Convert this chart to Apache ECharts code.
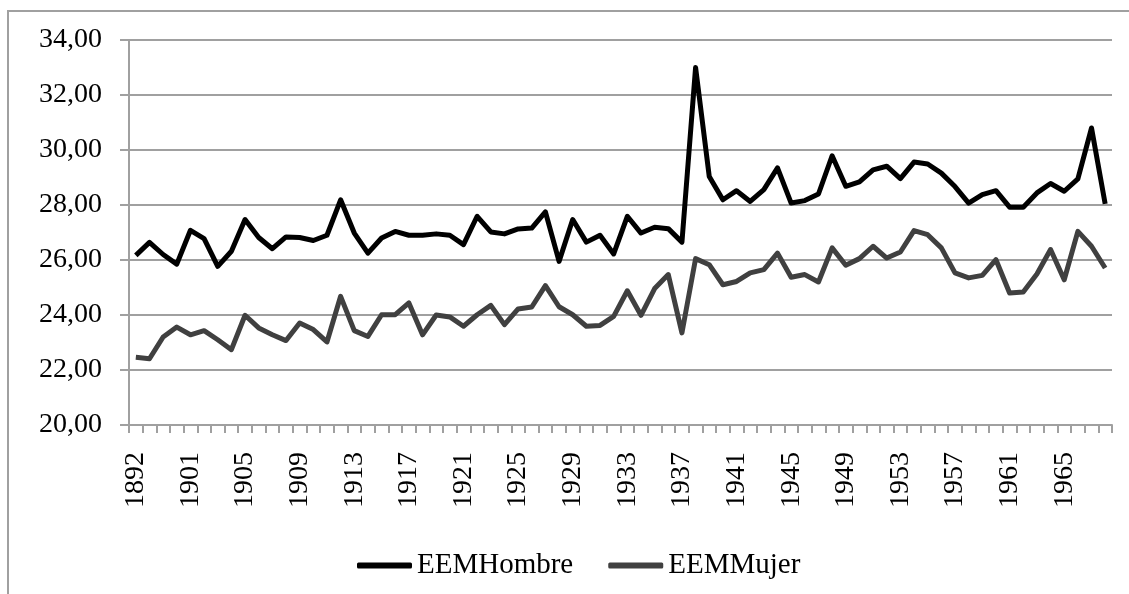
<!DOCTYPE html>
<html>
<head>
<meta charset="utf-8">
<script src="https://cdn.jsdelivr.net/npm/echarts@6/dist/echarts.min.js"></script>
<style>
html, body { margin: 0; padding: 0; background: #fff; }
#main { width: 1129px; height: 594px; }
</style>
</head>
<body>
<div id="main"></div>
<script>
// años (los tres primeros no se rotulan en el original)
var years = ['1892', '1898', '1899', '1900'];
for (var y = 1901; y <= 1968; y++) years.push(String(y));

var eemHombre = [
    26.17, 26.64, 26.20, 25.85, 27.08, 26.78, 25.77, 26.32, 27.47, 26.82, 26.41, 26.84,
    26.82, 26.71, 26.90, 28.19, 26.98, 26.25, 26.80, 27.04, 26.90, 26.90, 26.95, 26.90,
    26.56, 27.59, 27.02, 26.95, 27.13, 27.16, 27.75, 25.95, 27.47, 26.65, 26.90, 26.22,
    27.59, 26.98, 27.19, 27.14, 26.65, 33.00, 29.04, 28.19, 28.52, 28.13, 28.56, 29.35,
    28.07, 28.16, 28.40, 29.79, 28.68, 28.84, 29.28, 29.41, 28.96, 29.56, 29.49, 29.16,
    28.67, 28.07, 28.38, 28.52, 27.92, 27.92, 28.44, 28.78, 28.50, 28.95, 30.80, 28.04
];
var eemMujer = [
    22.46, 22.41, 23.20, 23.56, 23.28, 23.43, 23.10, 22.74, 23.99, 23.53, 23.28, 23.07,
    23.71, 23.47, 23.02, 24.68, 23.43, 23.22, 24.01, 24.01, 24.44, 23.28, 24.00, 23.93,
    23.59, 24.01, 24.35, 23.65, 24.22, 24.29, 25.07, 24.30, 24.01, 23.59, 23.62, 23.95,
    24.88, 23.99, 24.96, 25.47, 23.35, 26.05, 25.83, 25.10, 25.22, 25.53, 25.65, 26.25,
    25.37, 25.47, 25.20, 26.44, 25.81, 26.05, 26.50, 26.07, 26.29, 27.07, 26.92, 26.44,
    25.53, 25.35, 25.44, 26.01, 24.80, 24.84, 25.49, 26.38, 25.28, 27.04, 26.50, 25.71
];

var font = 'Liberation Serif';
var gris = '#a0a0a0';

var chart = echarts.init(document.getElementById('main'));
chart.setOption({
    animation: false,
    backgroundColor: '#fff',
    textStyle: { fontFamily: font, color: '#000' },
    graphic: [{
        type: 'rect',
        shape: { x: 8, y: 11, width: 1300, height: 700 },
        style: { fill: 'none', stroke: gris, lineWidth: 2 },
        silent: true
    }],
    grid: { left: 129, right: 17, top: 40, bottom: 169 },
    legend: {
        left: 352,
        top: 546,
        itemWidth: 55,
        itemHeight: 6,
        itemGap: 35,
        icon: 'roundRect',
        textStyle: { fontFamily: font, fontSize: 29, color: '#000' },
        data: ['EEMHombre', 'EEMMujer']
    },
    xAxis: {
        type: 'category',
        data: years,
        boundaryGap: true,
        axisLine: { lineStyle: { color: gris, width: 2 } },
        axisTick: { show: true, interval: 0, length: 8, lineStyle: { color: gris, width: 2 } },
        axisLabel: {
            interval: 3,
            rotate: 90,
            margin: 27,
            fontFamily: font,
            fontSize: 28,
            color: '#000'
        },
        splitLine: { show: false }
    },
    yAxis: {
        type: 'value',
        min: 20,
        max: 34,
        interval: 2,
        axisLine: { show: true, lineStyle: { color: gris, width: 2 } },
        axisTick: { show: true, length: 9, lineStyle: { color: gris, width: 2 } },
        axisLabel: {
            margin: 27,
            fontFamily: font,
            fontSize: 28,
            color: '#000',
            formatter: function (v) { return v.toFixed(2).replace('.', ','); }
        },
        splitLine: { show: true, lineStyle: { color: gris, width: 2 } }
    },
    series: [
        {
            name: 'EEMHombre',
            type: 'line',
            data: eemHombre,
            symbol: 'none',
            color: '#000000',
            lineStyle: { width: 5, color: '#000000', join: 'round' }
        },
        {
            name: 'EEMMujer',
            type: 'line',
            data: eemMujer,
            symbol: 'none',
            color: '#404040',
            lineStyle: { width: 5, color: '#404040', join: 'round' }
        }
    ]
});
</script>
</body>
</html>
